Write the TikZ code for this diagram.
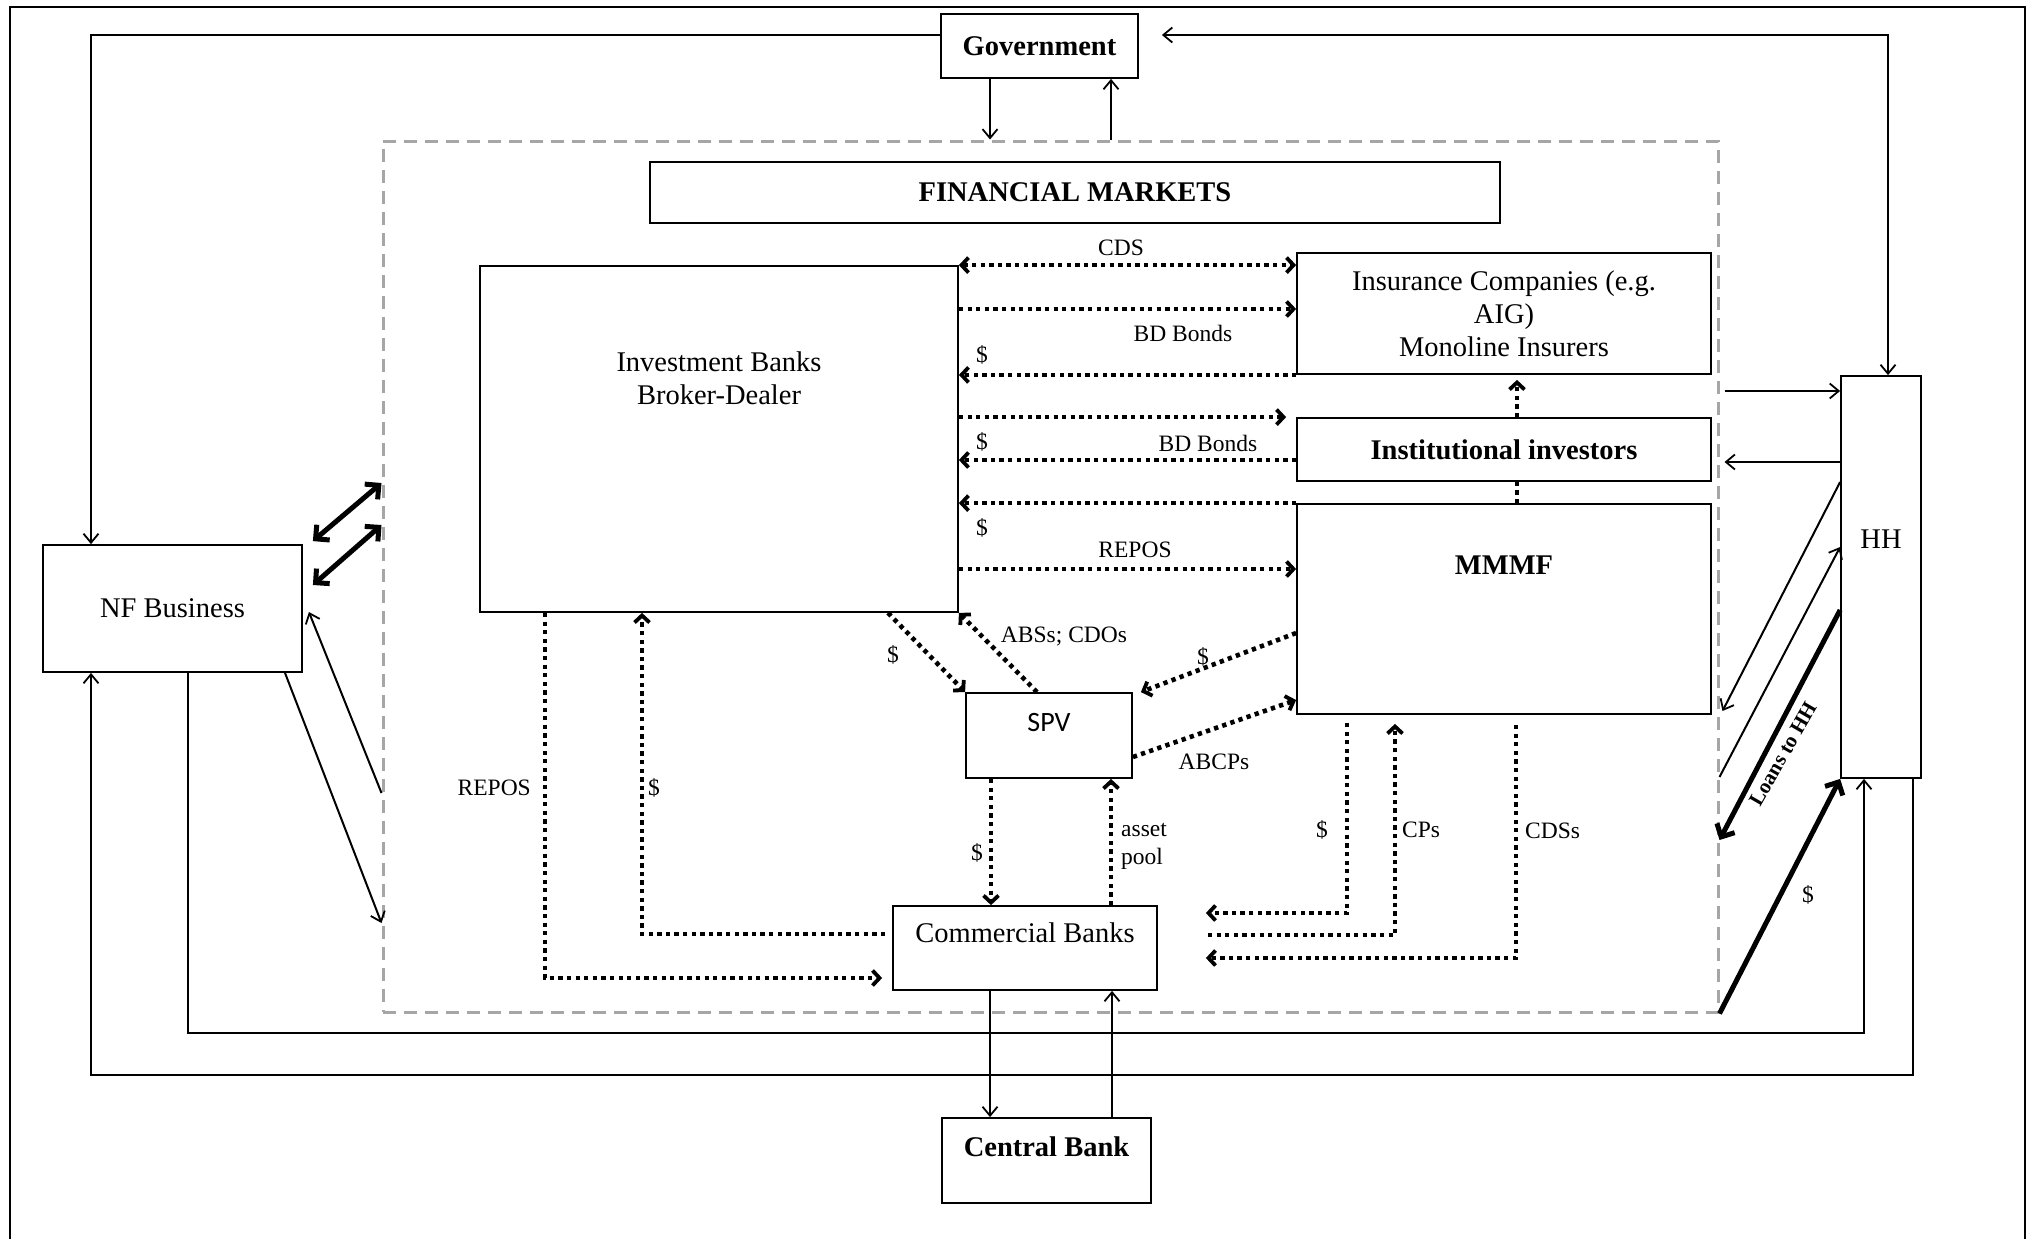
\documentclass[tikz,border=0pt]{standalone}
\usepackage{fontspec}
\setmainfont{Liberation Serif}
\newfontfamily\spvfont{Carlito}
\usetikzlibrary{arrows.meta,calc}
\tikzset{
  dtip/.tip={Straight Barb[length=7pt,width=15pt,line width=3.8pt]},
  ttip/.tip={Straight Barb[length=9pt,width=15pt,line width=1.8pt]},
  ktip/.tip={Straight Barb[length=10pt,width=20pt,line width=5pt]},
}
\begin{document}
\begin{tikzpicture}[x=1pt,y=-1pt,
  box/.style={draw, line width=1.8pt, inner sep=0pt},
  txt/.style={font=\fontsize{28.5}{33}\selectfont, align=center, inner sep=0pt},
  txtb/.style={font=\fontsize{28.5}{33}\selectfont\bfseries, align=center, inner sep=0pt},
  lbl/.style={font=\fontsize{23.5}{28}\selectfont, inner sep=0pt, align=left},
  dotl/.style={line width=4.6pt, dash pattern=on 4.3pt off 4.3pt},
  darr/.style={dotl, -{dtip}},
  tline/.style={line width=2pt},
  tarr/.style={tline, -{ttip}},
  kline/.style={line width=5pt},
]
\useasboundingbox (0,0) rectangle (2035,1239);
\fill[white] (0,0) rectangle (2035,1239);
\draw[line width=2pt] (10,1245) -- (10,7) -- (2025,7) -- (2025,1245);

% financial markets region
\node[draw=gray!70, line width=3pt, dash pattern=on 13pt off 8pt, inner sep=0pt,
      minimum width=1335pt, minimum height=871pt] (fin) at (1050.5,576.5) {};

% boxes
\node[box, txtb, minimum width=197pt, minimum height=64pt] (gov) at (1039.5,46) {Government};
\node[box, txtb, minimum width=850pt, minimum height=61pt] (fm) at (1075,192.5) {FINANCIAL MARKETS};
\node[box, minimum width=478pt, minimum height=346pt] (ib) at (719,439) {};
\node[txt] (ibt) at (719,378) {Investment Banks\\Broker-Dealer};
\node[box, txt, minimum width=414pt, minimum height=121pt] (ins) at (1504,313.5) {Insurance Companies (e.g.\\AIG)\\Monoline Insurers};
\node[box, txtb, minimum width=414pt, minimum height=63pt] (inst) at (1504,449.5) {Institutional investors};
\node[box, minimum width=414pt, minimum height=210pt] (mmmf) at (1504,609) {};
\node[txtb] (mmmft) at (1504,565) {MMMF};
\node[box, minimum width=166pt, minimum height=85pt] (spv) at (1049,735.5) {};
\node[font=\spvfont\fontsize{28}{33}\selectfont, inner sep=0pt] (spvt) at (1049,723) {SPV};
\node[box, minimum width=264pt, minimum height=84pt] (cb) at (1025,948) {};
\node[txt] (cbt) at (1025,933) {Commercial Banks};
\node[box, minimum width=209pt, minimum height=85pt] (cen) at (1046.5,1160.5) {};
\node[txtb] (cent) at (1046.5,1147) {Central Bank};
\node[box, txt, minimum width=259pt, minimum height=127pt] (nf) at (172.5,608.5) {NF Business};
\node[box, minimum width=80pt, minimum height=402pt] (hh) at (1881,577) {};
\node[txt] (hht) at (1881,539) {HH};

% Government connectors
\draw[tarr] (gov.west |- 0,35) -| (nf.north -| 91,0);
\draw[tarr] (gov.south -| 990,0) -- (fin.north -| 990,0);
\draw[tarr] (fin.north -| 1111,0) -- (gov.south -| 1111,0);
\draw[tline, {ttip}-{ttip}] ($(gov.east)+(23,-11)$) -| (hh.north -| 1888,0);

% NF connectors
\draw[kline, {ktip}-{ktip}] ($(nf.north east)+(10,-3)$) -- (fin.west |- 0,483);
\draw[kline, {ktip}-{ktip}] ($(nf.east)+(10,-23.5)$) -- (fin.west |- 0,525);
\draw[tarr] (fin.west |- 0,793) -- ($(nf.east)+(6,3.5)$);
\draw[tarr] (nf.south -| 285,0) -- (fin.west |- 0,923);
\draw[tarr] (nf.south -| 188,0) -- (188,1033) -| (hh.south -| 1864,0);
\draw[tarr] (hh.south -| 1913,0) -- (1913,1075) -| (nf.south -| 91,0);

% Central bank
\draw[tarr] (cb.south -| 990,0) -- (cen.north -| 990,0);
\draw[tarr] (cen.north -| 1112,0) -- (cb.south -| 1112,0);

% HH connectors
\draw[tarr] ($(fin.east |- 0,391)+(5,0)$) -- (hh.west |- 0,391);
\draw[tarr] (hh.west |- 0,462) -- ($(fin.east |- 0,462)+(5,0)$);
\draw[tarr] (hh.west |- 0,482) -- ($(fin.east |- 0,711)+(3,0)$);
\draw[tarr] (fin.east |- 0,777) -- (hh.west |- 0,547);
\draw[kline, -{ktip}] (hh.west |- 0,610) -- (fin.east |- 0,840);
\node[font=\fontsize{21}{24}\selectfont\bfseries, rotate=60, inner sep=0pt] (loans) at (1783,754) {Loans to HH};
\draw[kline, -{ktip}] (fin.south east) -- (hh.south west);
\node[lbl] (hhd) at (1808,895) {\$};

% Investment banks <-> insurance / institutional / MMMF
\draw[dotl, {dtip}-{dtip}] (ib.north east) -- (ins.west |- ib.north east);
\node[lbl] (l1) at (1121,248) {CDS};
\draw[darr] (ib.east |- 0,309) -- (ins.west |- 0,309);
\node[lbl] (l2) at (1183,333) {BD Bonds};
\draw[darr] (ins.south west) -- (ib.east |- ins.south west);
\node[lbl] (l3) at (982,355) {\$};
\draw[darr, shorten >=10pt] (ib.east |- inst.north west) -- (inst.north west);
\draw[darr] (inst.west |- 0,460) -- (ib.east |- 0,460);
\node[lbl] (l4) at (982,442) {\$};
\node[lbl] (l5) at (1208,443) {BD Bonds};
\draw[darr] (mmmf.north west) -- (ib.east |- mmmf.north west);
\node[lbl] (l6) at (982,528) {\$};
\draw[darr] (ib.east |- 0,569) -- (mmmf.west |- 0,569);
\node[lbl] (l7) at (1135,550) {REPOS};
\draw[dotl] (mmmf.north -| 1517,0) -- (inst.south -| 1517,0);
\draw[darr, shorten >=5pt] (inst.north -| 1517,0) -- (ins.south -| 1517,0);

% SPV connectors
\draw[darr] (ib.south -| 888,0) -- (spv.north west);
\node[lbl] (l8) at (893,655) {\$};
\draw[darr] (spv.north -| 1037,0) -- (ib.south east);
\node[lbl] (l9) at (1064,637) {ABSs; CDOs};
\draw[darr] (mmmf.west |- 0,633) -- ($(spv.north east)+(8,0)$);
\node[lbl] (l10) at (1203,657) {\$};
\draw[darr] (spv.east |- 0,757) -- (mmmf.west |- 0,700);
\node[lbl] (l11) at (1214,762) {ABCPs};
\draw[darr] (spv.south -| 991,0) -- (cb.north -| 991,0);
\node[lbl] (l12) at (977,853) {\$};
\draw[darr] (cb.north -| 1111,0) -- (spv.south -| 1111,0);
\node[lbl, anchor=west] (l13) at (1121,846) {asset\\pool};

% MMMF <-> Commercial banks
\draw[darr, shorten <=8pt] (mmmf.south -| 1347,0) |- ($(cb.east)+(48,-35)$);
\node[lbl] (l14) at (1322,830) {\$};
\draw[darr, shorten >=9pt] ($(cb.east)+(50,-13)$) -| (mmmf.south -| 1395,0);
\node[lbl, anchor=west] (l15) at (1402,830) {CPs};
\draw[darr, shorten <=10pt] (mmmf.south -| 1516,0) |- ($(cb.east)+(48,10)$);
\node[lbl, anchor=west] (l16) at (1525,831) {CDSs};

% Commercial banks <-> Investment banks
\draw[darr] ($(cb.west)+(-7,-14)$) -| (ib.south -| 642,0);
\node[lbl, anchor=west] (l17) at (648,788) {\$};
\draw[darr] (ib.south -| 545,0) |- ($(cb.west)+(-10,30)$);
\node[lbl, anchor=east] (l18) at (531,788) {REPOS};
\end{tikzpicture}
\end{document}
